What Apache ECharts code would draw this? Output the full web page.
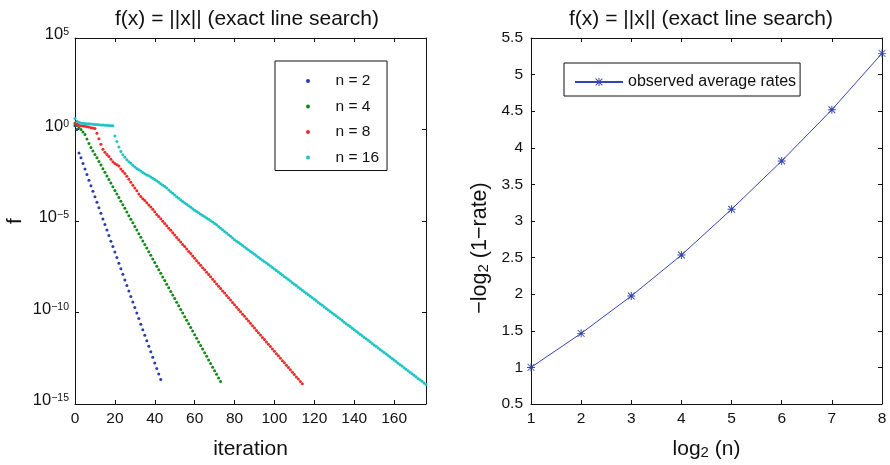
<!DOCTYPE html>
<html>
<head>
<meta charset="utf-8">
<title>f(x) = ||x|| (exact line search)</title>
<script src="https://cdn.jsdelivr.net/npm/echarts@6/dist/echarts.min.js"></script>
<style>
  html, body { margin: 0; padding: 0; background: #fff; }
  #chart { width: 890px; height: 465px; }
</style>
</head>
<body>
<div id="chart"></div>
<script>
// log10 f per iteration (array index = iteration)
const logF_n2 = [0.20, 0.00, -1.28, -1.55, -1.86, -2.16, -2.46, -2.77, -3.07, -3.37,
  -3.67, -3.98, -4.28, -4.58, -4.89, -5.19, -5.49, -5.79, -6.10, -6.40,
  -6.70, -7.00, -7.31, -7.61, -7.91, -8.22, -8.52, -8.82, -9.12, -9.43,
  -9.73, -10.03, -10.33, -10.64, -10.94, -11.24, -11.55, -11.85, -12.15, -12.45,
  -12.76, -13.06, -13.36, -13.66]

const logF_n4 = [0.30, 0.22, 0.10, 0.00, -0.13, -0.28, -0.52, -0.76, -0.98, -1.18,
  -1.37, -1.55, -1.75, -1.94, -2.14, -2.34, -2.54, -2.73, -2.93, -3.13,
  -3.33, -3.52, -3.72, -3.92, -4.11, -4.31, -4.51, -4.71, -4.90, -5.10,
  -5.30, -5.49, -5.69, -5.89, -6.09, -6.28, -6.48, -6.68, -6.87, -7.07,
  -7.27, -7.47, -7.66, -7.86, -8.06, -8.25, -8.45, -8.65, -8.85, -9.04,
  -9.24, -9.44, -9.63, -9.83, -10.03, -10.23, -10.42, -10.62, -10.82, -11.01,
  -11.21, -11.41, -11.61, -11.80, -12.00, -12.20, -12.39, -12.59, -12.79, -12.99,
  -13.18, -13.38, -13.58, -13.77]

const logF_n8 = [0.35, 0.30, 0.23, 0.20, 0.19, 0.18, 0.15, 0.13, 0.10, 0.08,
  0.05, -0.20, -0.50, -0.80, -1.08, -1.24, -1.36, -1.48, -1.62, -1.76,
  -1.86, -1.93, -2.00, -2.16, -2.28, -2.40, -2.55, -2.72, -2.88, -3.04,
  -3.20, -3.35, -3.52, -3.66, -3.78, -3.88, -4.00, -4.12, -4.24, -4.36,
  -4.50, -4.64, -4.76, -4.88, -5.01, -5.13, -5.26, -5.39, -5.51, -5.64,
  -5.77, -5.90, -6.02, -6.15, -6.28, -6.40, -6.53, -6.66, -6.78, -6.91,
  -7.04, -7.17, -7.29, -7.42, -7.55, -7.67, -7.80, -7.93, -8.05, -8.18,
  -8.31, -8.44, -8.56, -8.69, -8.82, -8.94, -9.07, -9.20, -9.32, -9.45,
  -9.58, -9.71, -9.83, -9.96, -10.09, -10.21, -10.34, -10.47, -10.59, -10.72,
  -10.85, -10.98, -11.10, -11.23, -11.36, -11.48, -11.61, -11.74, -11.86, -11.99,
  -12.12, -12.25, -12.37, -12.50, -12.63, -12.75, -12.88, -13.01, -13.13, -13.26,
  -13.39, -13.52, -13.64, -13.77, -13.90]

const logF_n16 = [0.60, 0.45, 0.40, 0.36, 0.34, 0.33, 0.32, 0.31, 0.30, 0.29,
  0.28, 0.27, 0.26, 0.25, 0.24, 0.23, 0.23, 0.22, 0.21, 0.20,
  -0.35, -0.65, -0.95, -1.20, -1.38, -1.52, -1.65, -1.76, -1.85, -1.95,
  -2.05, -2.13, -2.20, -2.27, -2.35, -2.42, -2.48, -2.53, -2.59, -2.66,
  -2.73, -2.80, -2.88, -2.96, -3.04, -3.12, -3.20, -3.30, -3.40, -3.49,
  -3.58, -3.67, -3.76, -3.85, -3.93, -4.01, -4.09, -4.17, -4.25, -4.33,
  -4.41, -4.48, -4.55, -4.63, -4.70, -4.77, -4.84, -4.91, -4.98, -5.05,
  -5.13, -5.21, -5.30, -5.39, -5.48, -5.57, -5.66, -5.75, -5.84, -5.93,
  -6.02, -6.10, -6.18, -6.26, -6.34, -6.42, -6.50, -6.58, -6.66, -6.74,
  -6.82, -6.90, -6.98, -7.06, -7.14, -7.22, -7.30, -7.38, -7.46, -7.54,
  -7.62, -7.70, -7.79, -7.87, -7.95, -8.04, -8.12, -8.20, -8.28, -8.37,
  -8.45, -8.53, -8.62, -8.70, -8.78, -8.87, -8.95, -9.03, -9.11, -9.20,
  -9.28, -9.36, -9.45, -9.53, -9.61, -9.70, -9.78, -9.86, -9.94, -10.03,
  -10.11, -10.19, -10.28, -10.36, -10.44, -10.53, -10.61, -10.69, -10.77, -10.86,
  -10.94, -11.02, -11.11, -11.19, -11.27, -11.36, -11.44, -11.52, -11.60, -11.69,
  -11.77, -11.85, -11.94, -12.02, -12.10, -12.19, -12.27, -12.35, -12.43, -12.52,
  -12.60, -12.68, -12.77, -12.85, -12.93, -13.02, -13.10, -13.18, -13.26, -13.35,
  -13.43, -13.51, -13.60, -13.68, -13.76, -13.85, -13.93]

const seriesNames = ['n = 2', 'n = 4', 'n = 8', 'n = 16']
const seriesColors = ['#2a3ca8', '#118a18', '#ee2a2a', '#1ec4c4']

// right panel
const log2n = [1, 2, 3, 4, 5, 6, 7, 8]
const avgRates = [1.0, 1.465, 1.975, 2.535, 3.16, 3.82, 4.52, 5.29]

const FONT = '"Liberation Sans", Arial, Helvetica, sans-serif'
const INK = '#111'
const LINE_BLUE = '#3346b0'

// MATLAB-style '*' marker: + and x overlaid
const ASTERISK = 'path://M0,4.4H10V5.6H0Z M4.4,0H5.6V10H4.4Z ' +
  'M1.2,0.4L9.6,8.8L8.8,9.6L0.4,1.2Z M8.8,0.4L9.6,1.2L1.2,9.6L0.4,8.8Z'

const chart = echarts.init(document.getElementById('chart'), null, { renderer: 'canvas' })

function boxAxis(base, extra) {
  return Object.assign({
    type: 'value',
    axisLine: { show: true, onZero: false, lineStyle: { color: INK, width: 1 } },
    axisTick: { show: true, inside: true, length: 4, lineStyle: { color: INK } },
    splitLine: { show: false },
    nameMoveOverlap: false
  }, base, extra)
}

function powLabel(v) {
  const e = v < 0 ? '\u2212' + (-v) : String(v)
  return '{b|10}{e|' + e + '}'
}

const subRich = (main, sub, pad) => ({
  m: { fontFamily: FONT, fontSize: main, color: INK, verticalAlign: 'top', lineHeight: main },
  s: { fontFamily: FONT, fontSize: sub, color: INK, verticalAlign: 'bottom', lineHeight: sub, padding: [pad, 0, 0, 0] }
})

const titleStyle = { fontFamily: FONT, fontSize: 21, fontWeight: 'normal', color: INK }
const scatterData = [logF_n2, logF_n4, logF_n8, logF_n16]

const option = {
  animation: false,
  backgroundColor: '#fff',
  textStyle: { fontFamily: FONT, color: INK },
  title: [
    { text: 'f(x) = ||x|| (exact line search)', left: 247, top: 9, padding: 0, textAlign: 'center', textStyle: titleStyle },
    { text: 'f(x) = ||x|| (exact line search)', left: 701, top: 9, padding: 0, textAlign: 'center', textStyle: titleStyle }
  ],
  legend: [
    {
      data: seriesNames,
      orient: 'vertical',
      left: 275, top: 61,
      padding: [12, 8, 5, 31],
      itemGap: 9.5,
      itemWidth: 25, itemHeight: 4,
      icon: 'circle',
      borderColor: INK, borderWidth: 1,
      backgroundColor: '#fff',
      textStyle: { fontFamily: FONT, fontSize: 15.5, lineHeight: 16, color: INK, padding: [0, 0, 0, 10] }
    },
    {
      data: ['observed average rates'],
      left: 564, top: 63,
      padding: [10, 4, 5, 10],
      itemWidth: 48, itemHeight: 10,
      borderColor: INK, borderWidth: 1,
      backgroundColor: '#fff',
      textStyle: { fontFamily: FONT, fontSize: 16, lineHeight: 18, color: INK }
    }
  ],
  grid: [
    { left: 75, right: 464, top: 38, bottom: 61, containLabel: false, outerBoundsMode: 'none' },
    { left: 531, right: 8, top: 38, bottom: 61, containLabel: false, outerBoundsMode: 'none' }
  ],
  xAxis: [
    boxAxis({ gridIndex: 0, position: 'bottom', min: 0, max: 176, interval: 20 }, {
      name: 'iteration', nameLocation: 'middle', nameGap: 35,
      nameTextStyle: { fontFamily: FONT, fontSize: 21, color: INK },
      axisLabel: { show: true, margin: 7, fontFamily: FONT, fontSize: 15.5, color: INK, showMaxLabel: false }
    }),
    boxAxis({ gridIndex: 0, position: 'top', min: 0, max: 176, interval: 20 }, {
      axisLabel: { show: false }
    }),
    boxAxis({ gridIndex: 1, position: 'bottom', min: 1, max: 8, interval: 1 }, {
      name: '{m|log}{s|2}{m| (n)}', nameLocation: 'middle', nameGap: 35,
      nameTextStyle: { fontFamily: FONT, color: INK, rich: subRich(21, 15, 9) },
      axisLabel: { show: true, margin: 7, fontFamily: FONT, fontSize: 15.5, color: INK }
    }),
    boxAxis({ gridIndex: 1, position: 'top', min: 1, max: 8, interval: 1 }, {
      axisLabel: { show: false }
    })
  ],
  yAxis: [
    boxAxis({ gridIndex: 0, position: 'left', min: -15, max: 5, interval: 5 }, {
      name: 'f', nameLocation: 'middle', nameGap: 49,
      nameTextStyle: { fontFamily: FONT, fontSize: 21, color: INK },
      axisLabel: {
        show: true, margin: 6, formatter: powLabel,
        padding: [0, 0, 6, 0],
        rich: {
          b: { fontFamily: FONT, fontSize: 16.5, color: INK, verticalAlign: 'bottom', lineHeight: 16.5 },
          e: { fontFamily: FONT, fontSize: 10.5, color: INK, verticalAlign: 'top', lineHeight: 10.5, padding: [0, 0, 12, 0] }
        }
      }
    }),
    boxAxis({ gridIndex: 0, position: 'right', min: -15, max: 5, interval: 5 }, {
      axisLabel: { show: false }
    }),
    boxAxis({ gridIndex: 1, position: 'left', min: 0.5, max: 5.5, interval: 0.5 }, {
      name: '{m|\u2212log}{s|2}{m| (1\u2212rate)}', nameLocation: 'middle', nameGap: 40,
      nameTextStyle: { fontFamily: FONT, color: INK, padding: [0, 54, 0, 0], rich: subRich(21.5, 15, 9) },
      axisLabel: { show: true, margin: 8, fontFamily: FONT, fontSize: 15.5, color: INK }
    }),
    boxAxis({ gridIndex: 1, position: 'right', min: 0.5, max: 5.5, interval: 0.5 }, {
      axisLabel: { show: false }
    })
  ],
  series: scatterData.map((vals, k) => ({
    name: seriesNames[k],
    type: 'scatter',
    xAxisIndex: 0, yAxisIndex: 0,
    symbol: 'circle',
    symbolSize: 3,
    itemStyle: { color: seriesColors[k], opacity: 1 },
    data: vals.map((v, i) => [i, v])
  })).concat([{
    name: 'observed average rates',
    type: 'line',
    xAxisIndex: 2, yAxisIndex: 2,
    symbol: ASTERISK,
    symbolSize: 8,
    showSymbol: true,
    lineStyle: { color: LINE_BLUE, width: 1 },
    itemStyle: { color: LINE_BLUE, opacity: 1 },
    data: log2n.map((x, i) => [x, avgRates[i]])
  }])
}

chart.setOption(option)
</script>
</body>
</html>
